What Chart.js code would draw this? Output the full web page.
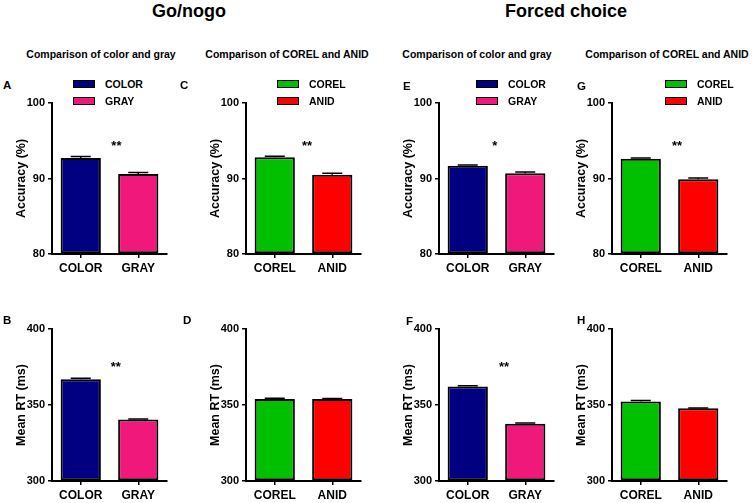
<!DOCTYPE html>
<html><head><meta charset="utf-8">
<script src="https://cdn.jsdelivr.net/npm/chart.js@4.4.0/dist/chart.umd.min.js"></script>
<style>
html,body{margin:0;padding:0;background:#fff;}
#root{position:relative;width:755px;height:503px;overflow:hidden;font-family:"Liberation Sans",Arial,Helvetica,sans-serif;color:#000;font-weight:bold;}
.t{position:absolute;white-space:nowrap;line-height:1;transform:translate(-50%,-50%);}
.l{position:absolute;white-space:nowrap;line-height:1;transform:translateY(-50%);}
.sw{position:absolute;box-sizing:border-box;width:22px;height:8px;border:1.5px solid #000;transform:translateY(-50%);}
canvas{position:absolute;}
</style></head><body><div id="root"></div>
<script>
// ---------------- data ----------------
const catsColorGray = ['COLOR', 'GRAY'];
const catsCorelAnid = ['COREL', 'ANID'];
const colorsColorGray = ['#000080', '#f0187a'];
const colorsCorelAnid = ['#00c000', '#ff0000'];
const accTicks = [80, 90, 100];
const rtTicks = [300, 350, 400];

const goAccColorGray = [92.7, 90.6];
const goAccColorGrayErr = [0.2, 0.2];
const goRtColorGray = [367.0, 340.4];
const goRtColorGrayErr = [0.6, 0.4];
const goAccCorelAnid = [92.8, 90.5];
const goAccCorelAnidErr = [0.15, 0.2];
const goRtCorelAnid = [354.0, 353.9];
const goRtCorelAnidErr = [0.4, 0.4];

const fcAccColorGray = [91.7, 90.7];
const fcAccColorGrayErr = [0.1, 0.15];
const fcRtColorGray = [362.2, 337.7];
const fcRtColorGrayErr = [0.5, 0.4];
const fcAccCorelAnid = [92.6, 89.9];
const fcAccCorelAnidErr = [0.1, 0.15];
const fcRtCorelAnid = [352.3, 347.8];
const fcRtCorelAnidErr = [0.7, 0.3];

const mainTitles = ['Go/nogo', 'Forced choice'];
const subTitles = ['Comparison of color and gray', 'Comparison of COREL and ANID'];
const yTitles = ['Accuracy (%)', 'Mean RT (ms)'];

// ---------------- layout ----------------
const FONT = '"Liberation Sans", Arial, Helvetica, sans-serif';
const root = document.getElementById('root');
function addText(cls, txt, x, y, size) {
  const d = document.createElement('div');
  d.className = cls; d.textContent = txt;
  d.style.left = x + 'px'; d.style.top = y + 'px'; d.style.fontSize = size + 'px';
  root.appendChild(d);
}
addText('t', mainTitles[0], 189, 11, 18);
addText('t', mainTitles[1], 566, 11, 18);
addText('t', subTitles[0], 101, 54, 10.5);
addText('t', subTitles[1], 287, 54, 10.5);
addText('t', subTitles[0], 477, 54, 10.5);
addText('t', subTitles[1], 667, 54, 10.5);

const rows = [{top: 103, h: 151, title: yTitles[0], ticks: accTicks, starY: 94.7},
              {top: 329, h: 152, title: yTitles[1], ticks: rtTicks, starY: 377}];

const panels = [
  {letter: 'A', lx: 3, ly: 86, axisX: 52, row: 0, cats: catsColorGray, cols: colorsColorGray, vals: goAccColorGray, errs: goAccColorGrayErr, star: '**', starX: 0.62, legX: 73},
  {letter: 'B', lx: 3, ly: 320.5, axisX: 52, row: 1, cats: catsColorGray, cols: colorsColorGray, vals: goRtColorGray, errs: goRtColorGrayErr, star: '**', starX: 0.61},
  {letter: 'C', lx: 180, ly: 86, axisX: 246, row: 0, cats: catsCorelAnid, cols: colorsCorelAnid, vals: goAccCorelAnid, errs: goAccCorelAnidErr, star: '**', starX: 0.56, legX: 277},
  {letter: 'D', lx: 183, ly: 320.5, axisX: 246, row: 1, cats: catsCorelAnid, cols: colorsCorelAnid, vals: goRtCorelAnid, errs: goRtCorelAnidErr, star: '', starX: 0.5},
  {letter: 'E', lx: 403, ly: 87, axisX: 439, row: 0, cats: catsColorGray, cols: colorsColorGray, vals: fcAccColorGray, errs: fcAccColorGrayErr, star: '*', starX: 0.47, legX: 476},
  {letter: 'F', lx: 406, ly: 321.5, axisX: 439, row: 1, cats: catsColorGray, cols: colorsColorGray, vals: fcRtColorGray, errs: fcRtColorGrayErr, star: '**', starX: 0.63},
  {letter: 'G', lx: 577, ly: 87, axisX: 612, row: 0, cats: catsCorelAnid, cols: colorsCorelAnid, vals: fcAccCorelAnid, errs: fcAccCorelAnidErr, star: '**', starX: 0.63, legX: 665},
  {letter: 'H', lx: 577, ly: 321, axisX: 612, row: 1, cats: catsCorelAnid, cols: colorsCorelAnid, vals: fcRtCorelAnid, errs: fcRtCorelAnidErr, star: '', starX: 0.5}
];

const errPlugin = {
  id: 'errStars',
  afterDatasetsDraw(chart, args, opts) {
    const ctx = chart.ctx, ys = chart.scales.y, xs = chart.scales.x;
    const meta = chart.getDatasetMeta(0), ds = chart.data.datasets[0];
    ctx.save();
    ctx.strokeStyle = '#000'; ctx.lineWidth = 1.5;
    meta.data.forEach((bar, i) => {
      const v = ds.data[i], e = opts.errs[i];
      const yt = ys.getPixelForValue(v + e), yb = ys.getPixelForValue(v);
      ctx.beginPath();
      ctx.moveTo(bar.x, yb); ctx.lineTo(bar.x, yt);
      ctx.moveTo(bar.x - 10, yt); ctx.lineTo(bar.x + 10, yt);
      ctx.stroke();
    });
    if (opts.star) {
      ctx.fillStyle = '#000';
      ctx.font = 'bold 13px ' + FONT;
      ctx.textAlign = 'center'; ctx.textBaseline = 'middle';
      ctx.fillText(opts.star, xs.getPixelForValue(opts.starX), ys.getPixelForValue(opts.starY) + 3);
    }
    ctx.restore();
  }
};

const PLOT_W = 115, AXIS_W = 52, PAD_T = 10, PAD_R = 10, XAX_H = 30;
panels.forEach(p => {
  const r = rows[p.row];
  const c = document.createElement('canvas');
  const w = AXIS_W + PLOT_W + PAD_R, h = PAD_T + r.h + XAX_H;
  c.width = w; c.height = h;
  c.style.left = (p.axisX - AXIS_W) + 'px'; c.style.top = (r.top - PAD_T) + 'px';
  c.style.width = w + 'px'; c.style.height = h + 'px';
  root.appendChild(c);
  addText('l', p.letter, p.lx, p.ly, 11.5);
  if (p.legX !== undefined) {
    p.cats.forEach((cat, i) => {
      const yy = 84 + i * 17;
      const s = document.createElement('div');
      s.className = 'sw'; s.style.left = p.legX + 'px'; s.style.top = yy + 'px'; s.style.background = p.cols[i];
      root.appendChild(s);
      addText('l', cat, p.legX + 32, yy, 10.5);
    });
  }
  new Chart(c, {
    type: 'bar',
    data: {labels: p.cats, datasets: [{data: p.vals, backgroundColor: p.cols, borderColor: '#000', borderWidth: 2, borderSkipped: false, base: r.ticks[0], barPercentage: 0.7, categoryPercentage: 1.0}]},
    options: {
      responsive: false, animation: false, devicePixelRatio: 1,
      layout: {padding: {top: PAD_T, right: PAD_R, left: 0, bottom: 0}},
      plugins: {legend: {display: false}, tooltip: {enabled: false}, errStars: {errs: p.errs, star: p.star, starX: p.starX, starY: r.starY}},
      scales: {
        x: {
          offset: true,
          grid: {offset: false, drawOnChartArea: false, drawTicks: true, tickLength: 4, color: '#000', lineWidth: 1.5},
          border: {display: true, color: '#000', width: 2},
          ticks: {color: '#000', font: {family: FONT, size: 12, weight: 'bold'}, padding: 3, maxRotation: 0},
          afterFit: s => { s.height = XAX_H; }
        },
        y: {
          min: r.ticks[0], max: r.ticks[r.ticks.length - 1],
          afterBuildTicks: s => { s.ticks = r.ticks.map(v => ({value: v})); },
          grid: {drawOnChartArea: false, drawTicks: true, tickLength: 4, color: '#000', lineWidth: 1.5},
          border: {display: true, color: '#000', width: 2},
          ticks: {color: '#000', font: {family: FONT, size: 11, weight: 'bold'}, padding: 3},
          title: {display: true, text: r.title, color: '#000', font: {family: FONT, size: 12.5, weight: 'bold'}, padding: {top: 14.5, bottom: 0}},
          afterFit: s => { s.width = AXIS_W; }
        }
      }
    },
    plugins: [errPlugin]
  });
});
</script></body></html>
